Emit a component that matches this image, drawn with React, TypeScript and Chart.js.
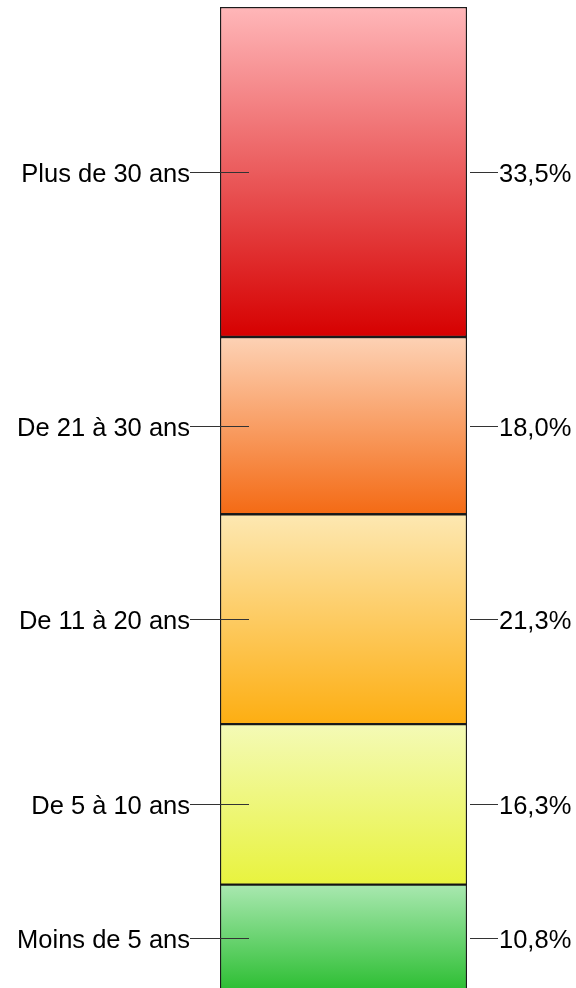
import React, { useEffect, useRef } from "react";
import { Chart, registerables } from "chart.js";

Chart.register(...registerables);

const categories = ["Moins de 5 ans", "De 5 à 10 ans", "De 11 à 20 ans", "De 21 à 30 ans", "Plus de 30 ans"];
const values = [10.8, 16.3, 21.3, 18.0, 33.5];
const valueLabels = ["10,8%", "16,3%", "21,3%", "18,0%", "33,5%"];
const topColors = ["#a9e8b0", "#f4fab6", "#fde8b2", "#fdd2b5", "#ffb7b9"];
const bottomColors = ["#2cbe32", "#e8f33e", "#fdae12", "#f46a14", "#d60000"];

const FONT = '25.5px "Liberation Sans", Arial, sans-serif';

const labelPlugin = {
  id: "sideLabels",
  afterDatasetsDraw(chart: any) {
    const { ctx, chartArea, scales } = chart;
    const y = scales.y;
    ctx.save();
    ctx.font = FONT;
    ctx.fillStyle = "#000";
    ctx.strokeStyle = "#333";
    ctx.lineWidth = 1;
    let cum = 0;
    values.forEach((v, i) => {
      const mid = y.getPixelForValue(cum + v / 2);
      cum += v;
      const ly = Math.round(mid) + 0.5;
      ctx.beginPath();
      ctx.moveTo(chartArea.left - 30, ly);
      ctx.lineTo(chartArea.left + 29, ly);
      ctx.stroke();
      ctx.beginPath();
      ctx.moveTo(chartArea.right + 3, ly);
      ctx.lineTo(chartArea.right + 31, ly);
      ctx.stroke();
      ctx.textBaseline = "alphabetic";
      ctx.textAlign = "right";
      ctx.fillText(categories[i], chartArea.left - 30, ly + 9);
      ctx.textAlign = "left";
      ctx.fillText(valueLabels[i], chartArea.right + 32, ly + 9);
    });
    ctx.restore();
  },
};

export default function App() {
  const ref = useRef<HTMLCanvasElement>(null);
  useEffect(() => {
    if (!ref.current) return;
    const total = values.reduce((a, b) => a + b, 0);
    const datasets = categories.map((c, i) => ({
      label: c,
      data: [values[i]],
      borderColor: "rgba(15,15,15,0.95)",
      borderWidth: 1.5,
      borderSkipped: false as any,
      barPercentage: 1,
      categoryPercentage: 1,
      backgroundColor: (context: any) => {
        const chart = context.chart;
        const ys = chart.scales && chart.scales.y;
        if (!ys || !chart.chartArea) return bottomColors[i];
        let start = 0;
        for (let k = 0; k < i; k++) start += values[k];
        const yTop = ys.getPixelForValue(start + values[i]);
        const yBot = ys.getPixelForValue(start);
        const g = chart.ctx.createLinearGradient(0, yTop, 0, yBot);
        g.addColorStop(0, topColors[i]);
        g.addColorStop(1, bottomColors[i]);
        return g;
      },
    }));
    const chart = new Chart(ref.current, {
      type: "bar",
      data: { labels: [""], datasets },
      options: {
        responsive: false,
        animation: false,
        layout: { padding: { left: 220, right: 109, top: 7, bottom: 9 } },
        plugins: { legend: { display: false }, tooltip: { enabled: false } },
        scales: {
          x: { stacked: true, display: false },
          y: { stacked: true, display: false, min: 0, max: total },
        },
      },
      plugins: [labelPlugin],
    });
    return () => chart.destroy();
  }, []);
  return (
    <div style={{ position: "fixed", top: 0, left: 0, width: 576, height: 988, overflow: "hidden", background: "#fff" }}>
      <canvas ref={ref} width={576} height={1000} style={{ display: "block" }} />
    </div>
  );
}
